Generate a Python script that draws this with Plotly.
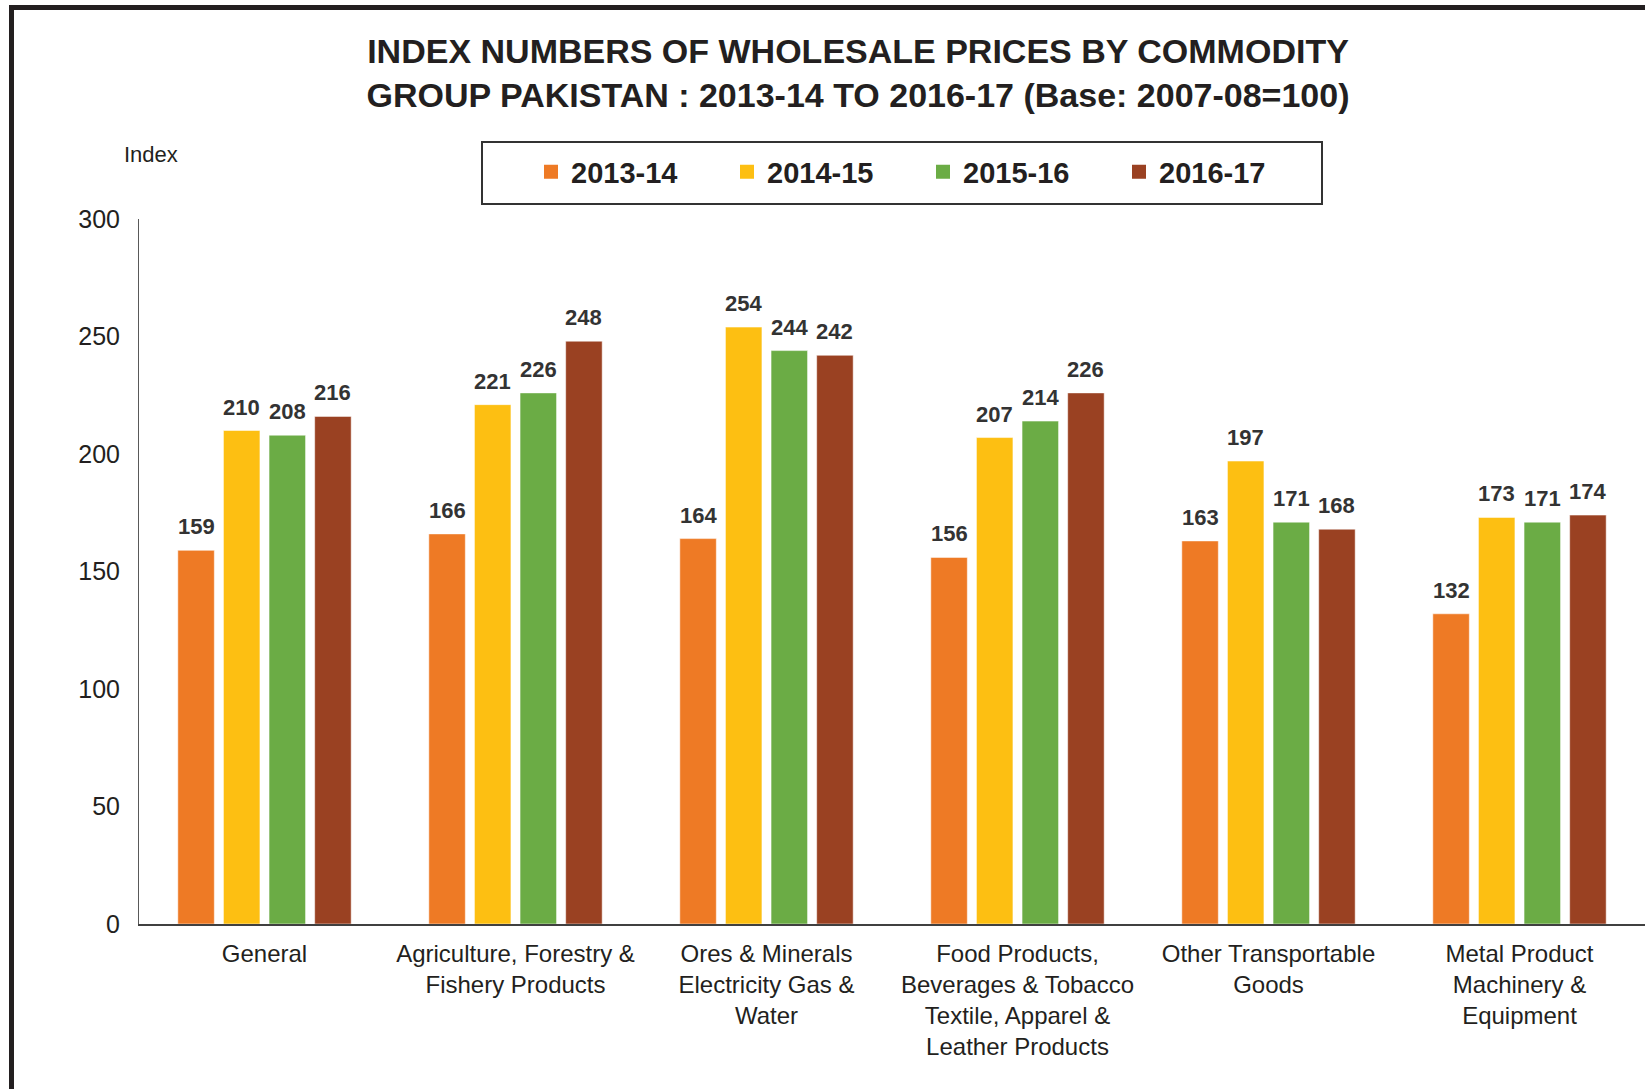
import plotly.graph_objects as go

categories = [
    "General",
    "Agriculture, Forestry &<br>Fishery Products",
    "Ores & Minerals<br>Electricity Gas &<br>Water",
    "Food Products,<br>Beverages & Tobacco<br>Textile, Apparel &<br>Leather Products",
    "Other Transportable<br>Goods",
    "Metal Product<br>Machinery &<br>Equipment",
]
years = ["2013-14", "2014-15", "2015-16", "2016-17"]
v_2013_14 = [159, 166, 164, 156, 163, 132]
v_2014_15 = [210, 221, 254, 207, 197, 173]
v_2015_16 = [208, 226, 244, 214, 171, 171]
v_2016_17 = [216, 248, 242, 226, 168, 174]
y_ticks = [0, 50, 100, 150, 200, 250, 300]

series = [v_2013_14, v_2014_15, v_2015_16, v_2016_17]
colors = ["#EE7A25", "#FDBF12", "#6BAC45", "#9A4122"]

FONT = "Liberation Sans, Arial, sans-serif"
INK = "#231F20"

# figure geometry (px)
W, H = 1645, 1089
L, R, T, B = 139, 0, 219, 165
pw, ph = W - L - R, H - T - B


def px_x(x):
    return (x - L) / pw


def px_y(y):
    return 1 - (y - T) / ph


fig = go.Figure()
for name, vals, col in zip(years, series, colors):
    fig.add_trace(go.Bar(
        x=categories, y=vals, name=name, showlegend=False,
        marker=dict(color=col, line=dict(color="rgba(255,255,255,0.5)", width=1)),
        hoverinfo="x+y+name",
    ))
# legend entries with bigger square swatches
for name, col in zip(years, colors):
    fig.add_trace(go.Scatter(
        x=[None], y=[None], name=name, mode="markers",
        marker=dict(symbol="square", size=14, color=col),
    ))

# value labels above bars
slot = pw / len(categories) * (1 - 0.273) / 4
for i, vals in enumerate(series):
    for c, v in zip(categories, vals):
        fig.add_annotation(
            x=c, y=v, xref="x", yref="y",
            text="<b>%d</b>" % v, showarrow=False,
            xshift=(i - 1.5) * slot, yshift=9, yanchor="bottom",
            font=dict(family=FONT, size=22, color="#333333"),
        )

fig.add_annotation(
    x=px_x(122), y=px_y(154), xref="paper", yref="paper",
    text="Index", showarrow=False, xanchor="left", yanchor="middle",
    font=dict(family=FONT, size=22, color=INK),
)

# frame lines (top and left) and legend box
fig.add_shape(type="rect", xref="paper", yref="paper", layer="above",
              x0=px_x(9), x1=px_x(W + 5), y0=px_y(5), y1=px_y(10),
              fillcolor=INK, line=dict(width=0))
fig.add_shape(type="rect", xref="paper", yref="paper", layer="above",
              x0=px_x(9), x1=px_x(14), y0=px_y(5), y1=px_y(H + 5),
              fillcolor=INK, line=dict(width=0))
fig.add_shape(type="rect", xref="paper", yref="paper",
              x0=px_x(482), x1=px_x(1322), y0=px_y(142), y1=px_y(204),
              line=dict(color="#333333", width=2), fillcolor="rgba(0,0,0,0)")

fig.update_layout(
    width=W, height=H,
    margin=dict(l=L, r=R, t=T, b=B, autoexpand=False),
    paper_bgcolor="white", plot_bgcolor="white",
    font=dict(family=FONT, color=INK),
    barmode="group", bargap=0.273, bargroupgap=0.2,
    title=dict(
        text="<b>INDEX NUMBERS OF WHOLESALE PRICES BY COMMODITY<br>"
             "GROUP PAKISTAN : 2013-14 TO 2016-17 (Base: 2007-08=100)</b>",
        x=858 / W, xanchor="center", xref="container",
        y=1 - 63 / H, yanchor="top", yref="container",
        font=dict(family=FONT, size=34, color=INK),
    ),
    legend=dict(
        orientation="h", x=px_x(531), xanchor="left",
        y=px_y(172), yanchor="middle",
        entrywidth=151, entrywidthmode="pixels",
        font=dict(family=FONT, size=29, color=INK, weight="bold"),
        bgcolor="rgba(0,0,0,0)", borderwidth=0, itemsizing="trace",
    ),
    showlegend=True,
)

fig.update_xaxes(
    showline=True, linecolor="#404040", linewidth=2,
    showgrid=False, ticks="", ticklabelstandoff=7,
    tickfont=dict(family=FONT, size=24, color=INK),
    fixedrange=True,
)
fig.update_yaxes(
    range=[0, 300], tickvals=y_ticks,
    showline=True, linecolor="#595959", linewidth=1,
    showgrid=False, zeroline=False, ticks="", ticklabelstandoff=13,
    tickfont=dict(family=FONT, size=25, color=INK),
    fixedrange=True,
)

# page body has a default 8px margin; drop it so the figure fills the window
fig.write_html("out.html", config={"displayModeBar": False},
               post_script="document.body.style.margin='0px';")
